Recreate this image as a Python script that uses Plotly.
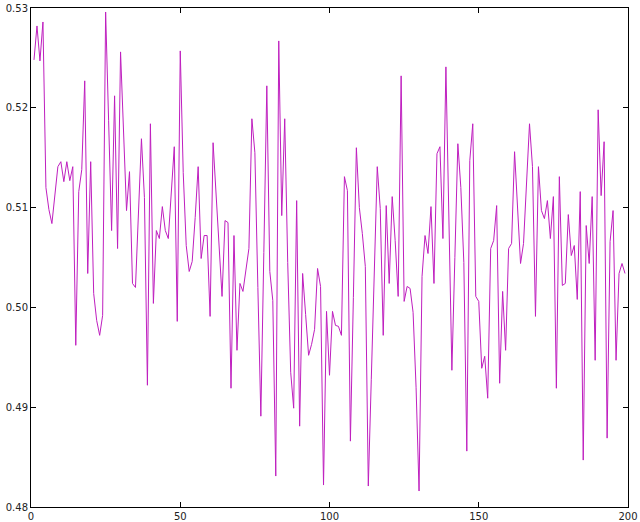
import plotly.graph_objects as go

x_values = list(range(1, 200))
y_values = [
    0.5248, 0.5282, 0.5247, 0.5286, 0.5120, 0.5098, 0.5084, 0.5112, 0.5141, 0.5146,
    0.5126, 0.5146, 0.5127, 0.5141, 0.4962, 0.5116, 0.5138, 0.5227, 0.5034, 0.5146,
    0.5014, 0.4987, 0.4972, 0.4992, 0.5296, 0.5187, 0.5077, 0.5212, 0.5059, 0.5256,
    0.5170, 0.5097, 0.5136, 0.5024, 0.5020, 0.5095, 0.5169, 0.5110, 0.4922, 0.5184,
    0.5004, 0.5077, 0.5069, 0.5101, 0.5077, 0.5069, 0.5115, 0.5161, 0.4986, 0.5257,
    0.5135, 0.5062, 0.5036, 0.5046, 0.5090, 0.5141, 0.5049, 0.5072, 0.5072, 0.4991,
    0.5165, 0.5115, 0.5062, 0.5011, 0.5087, 0.5085, 0.4919, 0.5072, 0.4957, 0.5024,
    0.5016, 0.5038, 0.5059, 0.5189, 0.5155, 0.5020, 0.4891, 0.5055, 0.5222, 0.5036,
    0.5007, 0.4831, 0.5267, 0.5092, 0.5189, 0.5045, 0.4935, 0.4899, 0.5107, 0.4881,
    0.5034, 0.4993, 0.4952, 0.4963, 0.4978, 0.5039, 0.5021, 0.4822, 0.4996, 0.4932,
    0.4996, 0.4982, 0.4981, 0.4972, 0.5131, 0.5117, 0.4866, 0.5010, 0.5160, 0.5100,
    0.5074, 0.5041, 0.4821, 0.4928, 0.5035, 0.5141, 0.5099, 0.4972, 0.5102, 0.5024,
    0.5111, 0.5067, 0.5011, 0.5232, 0.5006, 0.5021, 0.5019, 0.4995, 0.4920, 0.4816,
    0.5031, 0.5072, 0.5054, 0.5101, 0.5024, 0.5154, 0.5161, 0.5069, 0.5241, 0.5090,
    0.4937, 0.5050, 0.5164, 0.5120, 0.5045, 0.4856, 0.5147, 0.5184, 0.5011, 0.5006,
    0.4939, 0.4951, 0.4909, 0.5059, 0.5067, 0.5102, 0.4924, 0.5016, 0.4957, 0.5059,
    0.5064, 0.5156, 0.5094, 0.5044, 0.5064, 0.5126, 0.5184, 0.5141, 0.4991, 0.5141,
    0.5097, 0.5089, 0.5107, 0.5069, 0.5111, 0.4919, 0.5131, 0.5022, 0.5024, 0.5093,
    0.5052, 0.5062, 0.5008, 0.5116, 0.4847, 0.5082, 0.5044, 0.5111, 0.4947, 0.5198,
    0.5112, 0.5166, 0.4869, 0.5066, 0.5097, 0.4947, 0.5034, 0.5044, 0.5034,
]

x_ticks = [0, 50, 100, 150, 200]
y_ticks = [0.48, 0.49, 0.50, 0.51, 0.52, 0.53]
y_tick_labels = ["0.48", "0.49", "0.50", "0.51", "0.52", "0.53"]

fig = go.Figure()
fig.add_trace(go.Scatter(
    x=x_values, y=y_values, mode="lines",
    line=dict(color="#bf1fbf", width=1),
    hoverinfo="skip", showlegend=False,
))

axis_common = dict(
    showgrid=False, zeroline=False,
    showline=True, linecolor="black", linewidth=1, mirror="ticks",
    ticks="inside", ticklen=5, tickwidth=1, tickcolor="black",
    tickfont=dict(family="DejaVu Sans", size=10, color="#222222"),
    automargin=False,
)

fig.update_xaxes(range=[0, 200], tickvals=x_ticks, ticktext=[str(t) for t in x_ticks], **axis_common)
fig.update_yaxes(range=[0.48, 0.53], tickvals=y_ticks, ticktext=y_tick_labels, **axis_common)

fig.update_layout(
    width=640, height=522,
    margin=dict(l=31, r=12, t=8, b=15),
    paper_bgcolor="white", plot_bgcolor="white",
)

fig.write_html(
    "out.html",
    config={"displayModeBar": False, "staticPlot": True},
    post_script="document.body.style.margin='0';document.body.style.overflow='hidden';",
)
